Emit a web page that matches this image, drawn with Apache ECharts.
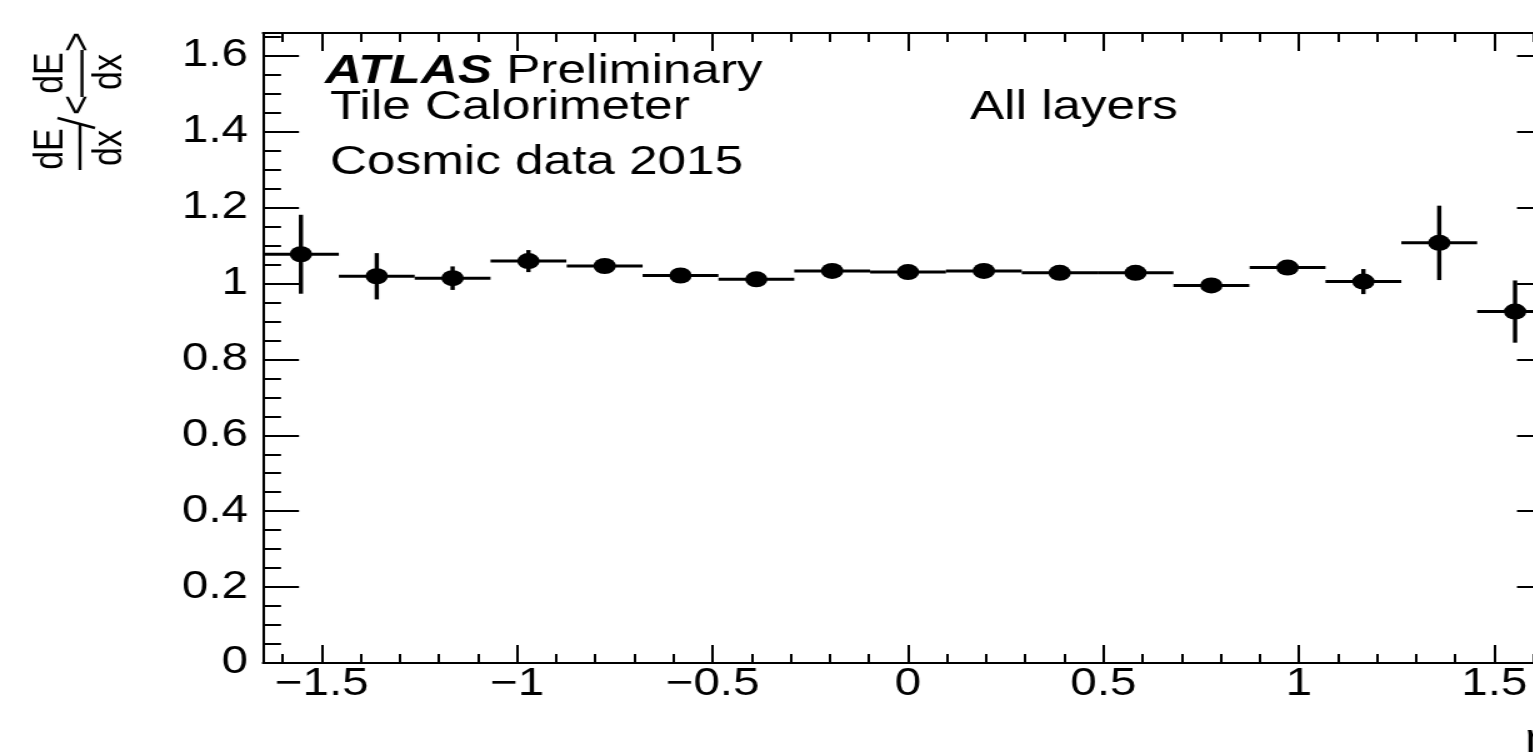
<!DOCTYPE html>
<html>
<head>
    <meta charset="UTF-8"/>
    <script type="text/javascript" src="https://cdn.jsdelivr.net/npm/echarts@6/dist/echarts.min.js"></script>
    <title>Tile Calorimeter dE/dx</title>
    <style>
        html, body { margin: 0; padding: 0; background: #fff; width: 1533px; height: 755px; overflow: hidden; }
        /* the reference picture is stretched sideways, so the chart is drawn narrow and widened */
        #chart { position: absolute; left: 0; top: 0; width: 1260px; height: 755px;
                 transform: scaleX(1.25); transform-origin: 0 0; }
    </style>
</head>
<body>
<div id="chart"></div>

<script type="application/javascript">
    // bin centres in eta, measured ratio and its error
    var etaCenters = [-1.553, -1.359, -1.165, -0.971, -0.776, -0.582, -0.388, -0.194, 0.0,
                      0.194, 0.388, 0.582, 0.776, 0.971, 1.165, 1.359, 1.553];
    var dedxRatio = [1.077, 1.019, 1.014, 1.059, 1.046, 1.021, 1.011, 1.033, 1.030,
                     1.033, 1.028, 1.028, 0.995, 1.042, 1.005, 1.107, 0.926];
    var dedxErr = [0.104, 0.061, 0.031, 0.029, 0.012, 0.010, 0.010, 0.010, 0.010,
                   0.010, 0.010, 0.010, 0.012, 0.012, 0.033, 0.098, 0.082];
    var binHalfWidth = 0.097;

    var FONT = '"Liberation Sans", Arial, Helvetica, sans-serif';

    function minusSign(v) {
        return String(v).replace('-', '\u2212');
    }

    function renderErrorBar(params, api) {
        var x = api.value(0), y = api.value(1), e = api.value(2);
        var left = api.coord([x - binHalfWidth, y]);
        var right = api.coord([x + binHalfWidth, y]);
        var top = api.coord([x, y + e]);
        var bottom = api.coord([x, y - e]);
        return {
            type: 'group',
            children: [
                {type: 'line', shape: {x1: left[0], y1: left[1], x2: right[0], y2: right[1]},
                    style: {stroke: '#000', lineWidth: 3}},
                {type: 'line', shape: {x1: top[0], y1: top[1], x2: bottom[0], y2: bottom[1]},
                    style: {stroke: '#000', lineWidth: 3.4}}
            ]
        };
    }

    function xAxisDef(pos, labels) {
        return {
            type: 'value',
            position: pos,
            min: -1.65,
            max: 1.65,
            axisLine: {show: true, onZero: false, lineStyle: {color: '#000', width: 2}},
            axisTick: {show: true, inside: true, length: 18, lineStyle: {color: '#000', width: 2}},
            minorTick: {show: true, splitNumber: 5, length: 9, lineStyle: {color: '#000', width: 2}},
            splitLine: {show: false},
            axisLabel: {
                show: labels, color: '#000', fontSize: 38, fontFamily: FONT, margin: 3,
                showMinLabel: false, showMaxLabel: false, formatter: minusSign
            }
        };
    }

    function yAxisDef(pos, labels) {
        return {
            type: 'value',
            position: pos,
            min: 0,
            max: 1.66,
            splitNumber: 8,
            axisLine: {show: true, onZero: false, lineStyle: {color: '#000', width: 2}},
            axisTick: {show: true, inside: true, length: 28.8, lineStyle: {color: '#000', width: 2}},
            minorTick: {show: true, splitNumber: 4, length: 14.4, lineStyle: {color: '#000', width: 2}},
            splitLine: {show: false},
            axisLabel: {
                show: labels, color: '#000', fontSize: 38, fontFamily: FONT, margin: 12,
                showMaxLabel: false
            }
        };
    }

    function textEl(x, y, text, size) {
        return {
            type: 'text', x: x, y: y,
            style: {text: text, fill: '#000', font: size + 'px ' + FONT,
                textAlign: 'left', textVerticalAlign: 'middle'}
        };
    }

    function rotText(x, y, text, size) {
        return {
            type: 'text', x: x, y: y, rotation: Math.PI / 2,
            style: {text: text, fill: '#000', font: size + 'px ' + FONT,
                textAlign: 'center', textVerticalAlign: 'middle'}
        };
    }

    function vLine(x, y1, y2) {
        return {type: 'line', shape: {x1: x, y1: y1, x2: x, y2: y2},
            style: {stroke: '#000', lineWidth: 2.4}};
    }

    var myChart = echarts.init(document.getElementById('chart'));
    var option = {
        animation: false,
        backgroundColor: '#fff',
        grid: {left: 210.4, right: 17.6, top: 33, bottom: 92, containLabel: false},
        xAxis: [xAxisDef('bottom', true), xAxisDef('top', false)],
        yAxis: [yAxisDef('left', true), yAxisDef('right', false)],
        graphic: [
            {
                type: 'text', x: 260, y: 72,
                style: {
                    text: '{b|ATLAS} Preliminary', fill: '#000', font: '41px ' + FONT,
                    textAlign: 'left', textVerticalAlign: 'middle',
                    rich: {b: {fontWeight: 'bold', fontStyle: 'italic', fontSize: 41, fontFamily: FONT, fill: '#000'}}
                }
            },
            textEl(264, 108, 'Tile Calorimeter', 41),
            textEl(264, 163, 'Cosmic data 2015', 41),
            textEl(776, 108, 'All layers', 41),
            textEl(1220, 741, '\u03b7', 40),
            // y axis title: dE/dx / <dE/dx>, written sideways
            rotText(40.8, 149, 'dE', 34),
            rotText(87.6, 148, 'dx', 34),
            vLine(64, 125, 170),
            {type: 'line', shape: {x1: 46, y1: 118, x2: 76, y2: 128},
                style: {stroke: '#000', lineWidth: 2.4}},
            rotText(40.8, 73, 'dE', 34),
            rotText(87.6, 72, 'dx', 34),
            vLine(65.6, 50, 97),
            rotText(62.4, 42, '>', 34),
            rotText(62.4, 105, '<', 34)
        ],
        series: [
            {
                name: 'errors',
                type: 'custom',
                renderItem: renderErrorBar,
                encode: {x: 0, y: 1},
                data: etaCenters.map(function (x, i) { return [x, dedxRatio[i], dedxErr[i]]; }),
                z: 2
            },
            {
                name: 'ratio',
                type: 'scatter',
                symbol: 'circle',
                symbolSize: [18, 16],
                itemStyle: {color: '#000', opacity: 1},
                data: etaCenters.map(function (x, i) { return [x, dedxRatio[i]]; }),
                z: 3
            }
        ]
    };
    myChart.setOption(option);
</script>
</body>
</html>
